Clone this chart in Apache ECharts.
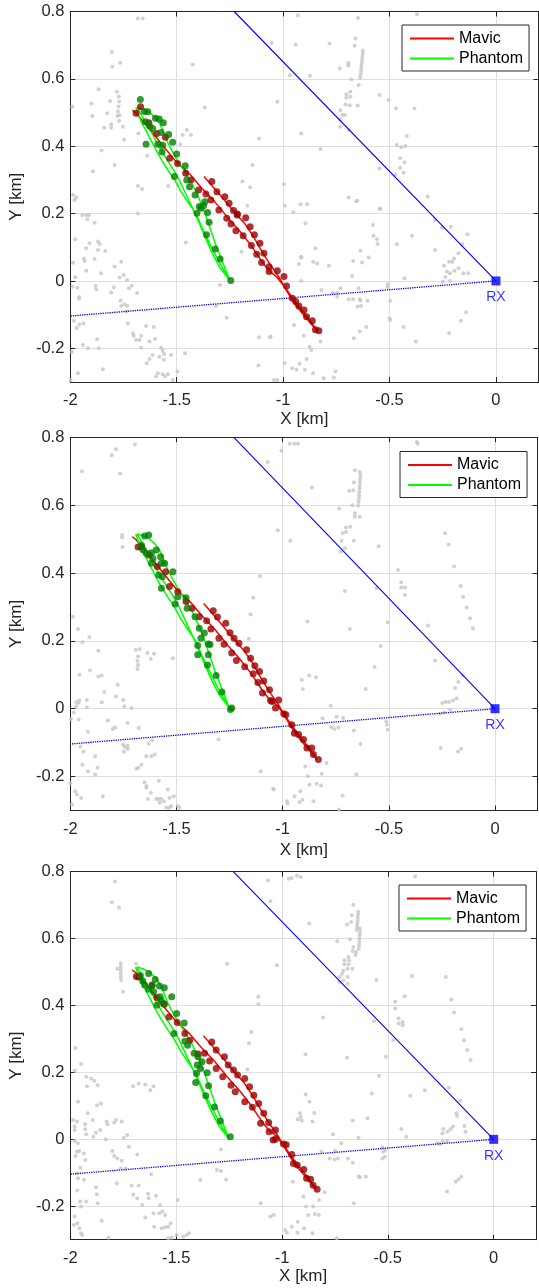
<!DOCTYPE html>
<html>
<head>
<meta charset="utf-8">
<script src="https://cdn.jsdelivr.net/npm/echarts@6/dist/echarts.min.js"></script>
<style>
html, body { margin: 0; padding: 0; background: #ffffff; }
#chart { width: 539px; height: 1288px; }
</style>
</head>
<body>
<div id="chart"></div>
<script>
// ---- Ground-truth GPS tracks (km), identical in all three panels ----
const mavicTrack = [
  [-1.372,0.310],[-1.330,0.280],[-1.280,0.243],[-1.230,0.205],[-1.180,0.170],[-1.140,0.132],
  [-1.100,0.088],[-1.060,0.048],[-1.020,0.012],[-0.980,-0.033],[-0.940,-0.073],[-0.900,-0.104],
  [-0.865,-0.130],[-0.838,-0.150],
  [-0.845,-0.145],[-0.870,-0.121],[-0.905,-0.092],[-0.945,-0.060],[-0.990,-0.020],[-1.030,0.012],
  [-1.066,0.030],[-1.100,0.058],[-1.150,0.105],[-1.200,0.145],[-1.260,0.188],[-1.320,0.234],
  [-1.380,0.274],[-1.440,0.318],[-1.500,0.352],[-1.560,0.398],[-1.610,0.438],[-1.660,0.475],
  [-1.690,0.498],[-1.708,0.507]
];
const phantomTrack = [
  [-1.692,0.515],[-1.682,0.497],[-1.667,0.473],[-1.645,0.447],[-1.622,0.419],[-1.598,0.389],
  [-1.570,0.358],[-1.540,0.328],[-1.510,0.300],[-1.480,0.265],[-1.445,0.232],[-1.410,0.200],
  [-1.375,0.150],[-1.340,0.105],[-1.300,0.055],[-1.250,0.000],
  [-1.262,0.020],[-1.290,0.065],[-1.318,0.110],[-1.345,0.160],[-1.370,0.205],[-1.395,0.245],
  [-1.425,0.285],[-1.458,0.320],[-1.490,0.350],[-1.515,0.378],[-1.540,0.408],[-1.560,0.440],
  [-1.578,0.465],[-1.600,0.485],[-1.627,0.500],[-1.657,0.510],[-1.685,0.515],
  [-1.672,0.500],[-1.655,0.480],[-1.630,0.455],[-1.605,0.425],[-1.580,0.395],[-1.548,0.362],
  [-1.515,0.330],[-1.488,0.300],[-1.460,0.262],[-1.430,0.222],[-1.400,0.180],[-1.370,0.135],
  [-1.335,0.085],[-1.298,0.040],[-1.255,0.005]
];

// ---- Receiver and field-of-view boundaries ----
const rxPos = [[0, 0]];
const fovUpper = [[0, 0], [-1.23, 0.8]];
const fovLower = [[0, 0], [-2.0, -0.104]];

// ---- Panel 1: clutter detections and target detections ----
const clutter1 = [
  [-1.683,0.779],[-1.660,0.779],[-1.805,0.680],[-1.803,0.636],[-1.766,0.648],[-1.867,0.569],[-1.900,0.527],
  [-1.897,0.490],[-1.991,0.517],[-1.813,0.534],[-1.781,0.562],[-1.772,0.548],[-1.770,0.533],[-1.773,0.518],
  [-1.776,0.503],[-1.768,0.492],[-1.779,0.490],[-1.771,0.476],[-1.827,0.498],[-1.841,0.455],[-1.808,0.465],
  [-1.808,0.455],[-1.753,0.458],[-1.747,0.420],[-1.853,0.387],[-1.894,0.326],[-1.792,0.344],[-1.680,0.438],
  [-1.639,0.372],[-1.683,0.282],[-1.663,0.273],[-1.683,0.200],[-1.425,0.643],[-1.368,0.515],[-1.453,0.448],
  [-1.472,0.433],[-1.433,0.433],[-1.483,0.406],[-1.540,0.282],[-1.493,0.285],[-1.191,0.295],[-1.155,0.278],
  [-1.144,0.344],[-1.113,0.423],[-1.168,0.223],[-1.987,0.255],[-1.980,0.240],[-1.972,0.248],
  [-1.944,0.196],[-1.925,0.196],[-1.912,0.196],[-1.920,0.183],[-1.886,0.173],[-1.987,0.054],[-1.977,0.124],
  [-1.910,0.112],[-1.925,0.097],[-1.870,0.117],[-1.862,0.110],[-1.870,0.092],[-1.836,0.089],[-1.936,0.067],
  [-1.933,0.059],[-1.886,0.065],[-1.925,0.030],[-1.855,0.023],[-1.977,0.011],[-1.990,-0.017],[-1.967,-0.020],
  [-1.959,-0.048],[-1.959,-0.053],[-1.881,-0.015],[-1.878,-0.025],[-1.792,0.043],[-1.761,0.057],[-1.769,0.010],
  [-1.749,0.018],[-1.733,0.003],[-1.725,-0.022],[-1.711,-0.014],[-1.686,-0.036],[-1.796,-0.019],[-1.808,-0.034],
  [-1.764,-0.058],[-1.761,-0.074],[-1.746,-0.069],[-1.733,-0.074],[-1.736,-0.091],[-1.983,-0.118],[-1.970,-0.140],
  [-1.958,-0.129],[-1.938,-0.126],[-1.730,-0.126],[-1.706,-0.155],[-1.702,-0.163],[-1.644,-0.134],[-1.667,-0.163],
  [-1.691,-0.175],[-1.675,-0.175],[-1.667,-0.198],[-1.628,-0.180],[-1.602,-0.172],[-1.608,-0.137],[-1.574,-0.198],
  [-1.566,-0.207],[-1.559,-0.217],[-1.582,-0.225],[-1.613,-0.220],[-1.628,-0.232],[-1.641,-0.244],[-1.527,-0.220],
  [-1.461,-0.215],[-1.561,-0.234],[-1.589,-0.274],[-1.566,-0.277],[-1.555,-0.284],[-1.542,-0.277],[-1.597,-0.284],
  [-1.519,-0.294],[-1.496,-0.269],[-1.941,-0.190],[-1.917,-0.200],[-1.867,-0.200],[-1.874,-0.173],[-1.992,-0.210],
  [-1.964,-0.274],[-1.847,-0.262],[-1.999,-0.294],[-1.296,-0.012],[-1.316,-0.074],[-1.266,-0.109],[-1.457,0.114],
  [-1.113,-0.167],[-1.062,-0.167],[-1.116,-0.251],[-1.196,0.087],
  [-0.931,0.789],[-0.648,0.781],[-0.371,0.792],[-1.055,0.707],[-0.941,0.702],[-0.782,0.705],[-0.660,0.720],
  [-0.664,0.698],[-0.625,0.684],[-0.626,0.675],[-0.628,0.666],[-0.629,0.657],[-0.630,0.648],
  [-0.632,0.639],[-0.633,0.630],[-0.634,0.621],[-0.636,0.612],[-0.638,0.603],
  [-0.693,0.647],[-0.694,0.640],[-0.734,0.631],[-0.679,0.599],[-0.645,0.582],[-0.684,0.562],[-0.703,0.554],
  [-0.703,0.544],[-0.684,0.547],[-0.707,0.524],[-0.687,0.522],[-0.650,0.521],[-0.731,0.507],[-0.723,0.493],
  [-0.710,0.493],[-0.731,0.478],[-0.731,0.458],[-0.692,0.448],[-0.547,0.552],[-0.505,0.537],[-0.469,0.512],
  [-0.383,0.512],[-1.027,0.532],[-0.968,0.611],[-0.874,0.609],[-0.915,0.438],[-0.824,0.392],[-0.466,0.404],
  [-0.445,0.397],[-0.426,0.401],[-0.419,0.430],[-0.450,0.364],[-0.430,0.352],[-0.450,0.336],[-0.434,0.321],
  [-0.473,0.315],[-0.547,0.334],[-0.996,0.287],[-0.992,0.223],[-0.918,0.228],[-0.887,0.228],[-0.692,0.248],
  [-0.656,0.237],[-0.321,0.250],[-0.952,0.204],[-0.547,0.215],
  [-0.895,0.171],[-0.848,0.097],[-0.915,0.072],[-0.915,0.069],[-0.926,0.050],[-0.859,0.057],[-0.840,0.052],
  [-0.785,0.045],[-0.915,0.000],[-0.820,-0.027],[-0.767,-0.035],[-0.746,-0.035],[-0.731,-0.022],[-0.746,-0.047],
  [-0.692,-0.054],[-0.671,-0.054],[-0.645,-0.022],[-0.640,-0.054],[-0.637,-0.058],[-0.650,-0.076],[-0.634,-0.074],
  [-0.603,-0.059],[-0.676,0.015],[-0.671,0.059],[-0.637,0.090],[-0.629,0.055],[-0.598,0.070],[-0.578,0.166],
  [-0.575,0.134],[-0.559,0.124],[-0.556,0.110],[-0.652,0.238],[-0.543,0.213],[-0.509,-0.010],[-0.509,-0.019],
  [-0.497,-0.059],[-0.500,-0.111],[-0.497,-0.116],[-0.465,0.109],[-0.430,0.008],[-0.395,0.134],[-0.434,-0.137],
  [-0.376,-0.180],[-0.286,0.181],[-0.254,0.158],[-0.212,0.161],[-0.134,0.139],[-0.158,0.110],[-0.176,0.082],
  [-0.197,0.067],[-0.205,0.057],[-0.220,0.057],[-0.286,0.092],[-0.244,0.045],[-0.231,0.028],[-0.216,0.023],
  [-0.176,0.038],[-0.153,0.023],[-0.130,0.023],[-0.250,-0.002],[-0.216,0.000],[-0.238,0.012],[-0.195,0.030],
  [-0.165,-0.118],[-0.140,-0.093],[-0.220,-0.155],[-0.949,-0.131],[-0.903,-0.163],[-0.875,-0.195],[-0.868,-0.205],
  [-0.824,-0.180],[-0.890,-0.232],[-0.993,-0.244],[-0.923,-0.246],[-0.957,-0.259],[-0.937,-0.264],[-0.898,-0.264],
  [-0.859,-0.274],[-0.809,-0.289],[-0.754,-0.269],[-0.762,-0.287],[-1.043,-0.294],[-1.027,-0.294],[-0.668,-0.170],
  [-0.640,-0.150],[-0.609,-0.137],[-1.059,-0.165]
];
const mavicHits1 = [
  [-1.691,0.498],[-1.670,0.517],[-1.631,0.470],[-1.594,0.438],[-1.553,0.427],[-1.533,0.364],[-1.496,0.349],
  [-1.458,0.320],[-1.433,0.300],[-1.397,0.270],[-1.363,0.258],[-1.340,0.240],[-1.302,0.211],[-1.265,0.186],
  [-1.335,0.295],[-1.311,0.265],[-1.274,0.250],[-1.254,0.231],[-1.233,0.209],[-1.215,0.199],[-1.176,0.188],
  [-1.245,0.169],[-1.222,0.149],[-1.188,0.134],[-1.149,0.105],[-1.124,0.079],[-1.101,0.055],[-1.066,0.028],
  [-1.216,0.196],[-1.155,0.161],[-1.135,0.137],[-1.109,0.112],[-1.090,0.082],[-1.066,0.042],
  [-1.027,0.030],[-0.996,0.013],[-0.984,-0.015],[-0.957,-0.051],[-0.941,-0.061],[-0.926,-0.074],
  [-0.902,-0.086],[-0.890,-0.106],[-0.863,-0.118],[-0.848,-0.145],[-0.832,-0.148]
];
const phantomHits1 = [
  [-1.671,0.539],[-1.652,0.503],[-1.636,0.502],[-1.600,0.483],[-1.582,0.481],[-1.563,0.470],[-1.647,0.473],
  [-1.628,0.460],[-1.613,0.453],[-1.574,0.441],[-1.538,0.435],[-1.644,0.406],[-1.589,0.406],[-1.566,0.403],
  [-1.569,0.383],[-1.519,0.412],[-1.500,0.377],[-1.511,0.310],[-1.460,0.342],[-1.453,0.300],[-1.440,0.280],
  [-1.414,0.255],[-1.386,0.216],[-1.355,0.203],[-1.368,0.235],[-1.405,0.201],[-1.394,0.221],[-1.374,0.223],
  [-1.348,0.174],[-1.360,0.137],[-1.319,0.095],[-1.296,0.065],[-1.246,0.001]
];

// ---- Panel 2 ----
const clutter2 = [
  [-1.945,0.700],[-1.805,0.747],[-1.785,0.765],[-1.696,0.779],[-1.766,0.693],[-1.756,0.512],[-1.756,0.505],
  [-1.754,0.477],[-1.070,0.727],[-1.107,0.391],[-1.139,0.327],[-1.151,0.278],[-1.159,0.206],[-1.989,0.271],
  [-1.964,0.235],[-1.943,0.196],[-1.910,0.211],[-1.868,0.171],[-1.692,0.174],[-1.673,0.176],[-1.681,0.154],
  [-1.684,0.141],[-1.681,0.129],[-1.684,0.117],[-1.637,0.164],[-1.606,0.162],[-1.621,0.147],[-1.517,0.149],
  [-1.957,0.100],[-1.907,0.113],[-1.868,0.095],[-1.852,0.098],[-1.840,0.049],[-1.777,0.071],[-1.786,0.036],
  [-1.852,0.019],[-1.922,0.026],[-1.958,0.024],[-1.972,0.019],[-1.972,0.007],[-1.961,0.017],[-1.922,0.004],
  [-1.984,-0.011],[-1.997,-0.030],[-1.961,-0.032],[-1.751,0.026],[-1.746,0.007],[-1.712,0.002],[-1.917,-0.068],
  [-1.824,-0.035],[-1.800,-0.060],[-1.790,-0.055],[-1.730,-0.042],[-1.678,-0.057],[-1.751,-0.106],[-1.743,-0.113],
  [-1.730,-0.109],[-1.730,-0.119],[-1.748,-0.127],[-1.631,-0.103],[-1.614,-0.093],[-1.642,-0.140],[-1.618,-0.140],
  [-1.603,-0.135],[-1.665,-0.165],[-1.688,-0.177],[-1.681,-0.174],[-1.953,-0.111],[-1.938,-0.126],[-1.943,-0.165],
  [-1.917,-0.184],[-1.883,-0.194],[-1.872,-0.174],[-1.883,-0.140],[-2.000,-0.219],[-1.977,-0.243],[-1.969,-0.253],
  [-1.949,-0.263],[-1.992,-0.282],[-1.847,-0.258],[-1.650,-0.217],[-1.642,-0.228],[-1.642,-0.233],[-1.621,-0.248],
  [-1.634,-0.266],[-1.595,-0.266],[-1.584,-0.266],[-1.571,-0.266],[-1.579,-0.277],[-1.559,-0.273],[-1.583,-0.212],
  [-1.541,-0.238],[-1.533,-0.263],[-1.513,-0.258],[-1.548,-0.292],[-1.533,-0.292],[-1.525,-0.287],[-1.494,-0.287],
  [-1.486,-0.292],[-1.302,-0.091],[-1.104,-0.184],[-1.045,-0.236],
  [-0.539,0.185],[-0.567,0.123],[-0.609,0.058],[-0.875,0.098],[-0.843,0.093],[-0.910,0.085],[-0.905,0.058],
  [-0.774,0.009],[-0.715,-0.027],[-0.746,-0.024],[-0.812,-0.029],[-0.772,-0.054],[-0.757,-0.060],[-0.738,-0.055],
  [-0.665,-0.064],[-0.634,-0.104],[-0.512,-0.037],[-0.509,-0.047],[-0.505,-0.062],[-0.282,0.142],[-0.188,0.061],
  [-0.151,0.098],[-0.173,0.079],[-0.181,0.031],[-0.198,0.024],[-0.216,0.020],[-0.232,0.020],[-0.248,0.017],
  [-0.212,-0.003],[-0.240,-0.011],[-0.259,-0.015],[-0.256,-0.116],[-0.174,-0.126],[-0.159,-0.118],[-0.894,-0.170],
  [-0.882,-0.199],[-0.793,-0.160],[-0.816,-0.192],[-0.653,-0.194],[-0.874,-0.224],[-0.840,-0.221],[-0.819,-0.226],
  [-0.917,-0.243],[-0.944,-0.258],[-0.921,-0.276],[-0.907,-0.268],[-0.980,-0.273],[-0.977,-0.279],[-0.855,-0.273],
  [-0.718,-0.256],[-0.735,-0.297],[-1.042,-0.238],
  [-0.967,0.781],[-0.945,0.781],[-0.928,0.781],[-1.006,0.760],[-0.368,0.786],[-0.365,0.781],[-1.023,0.526],
  [-0.964,0.495],[-0.863,0.652],[-0.660,0.703],[-0.637,0.698],[-0.634,0.689],[-0.635,0.679],[-0.636,0.669],
  [-0.637,0.659],[-0.638,0.649],[-0.639,0.639],[-0.640,0.629],[-0.641,0.619],[-0.643,0.609],[-0.645,0.598],
  [-0.664,0.667],[-0.687,0.642],[-0.668,0.644],[-0.672,0.600],
  [-0.734,0.590],[-0.660,0.576],[-0.660,0.566],[-0.637,0.566],[-0.702,0.534],[-0.681,0.536],[-0.702,0.521],
  [-0.718,0.517],[-0.723,0.495],[-0.707,0.473],[-0.726,0.463],[-0.665,0.495],[-0.548,0.479],[-0.235,0.517],
  [-0.219,0.484],[-0.193,0.419],[-0.162,0.362],[-0.150,0.330],[-0.134,0.298],[-0.118,0.267],[-0.104,0.237],
  [-0.457,0.409],[-0.442,0.373],[-0.442,0.357],[-0.424,0.357],[-0.424,0.335],[-0.707,0.347],[-0.559,0.355],
  [-0.883,0.257],[-0.684,0.235],[-0.505,0.255],[-0.315,0.245]
];
const mavicHits2 = [
  [-1.681,0.477],[-1.665,0.477],[-1.629,0.453],[-1.590,0.419],[-1.551,0.404],[-1.533,0.360],[-1.494,0.345],
  [-1.455,0.316],[-1.427,0.296],[-1.393,0.271],[-1.358,0.259],[-1.338,0.235],[-1.300,0.208],[-1.276,0.190],
  [-1.327,0.289],[-1.307,0.270],[-1.268,0.252],[-1.248,0.224],[-1.229,0.208],[-1.206,0.193],[-1.170,0.174],
  [-1.240,0.164],[-1.218,0.142],[-1.179,0.124],[-1.139,0.103],[-1.117,0.077],[-1.095,0.046],[-1.057,0.024],
  [-1.151,0.149],[-1.131,0.127],[-1.109,0.110],[-1.089,0.082],[-1.062,0.056],[-1.050,0.021],
  [-1.019,0.026],[-1.034,0.002],[-0.995,-0.015],[-0.985,-0.018],[-0.957,-0.047],[-0.945,-0.072],[-0.925,-0.076],
  [-0.902,-0.091],[-0.886,-0.116],[-0.863,-0.116],[-0.855,-0.135],[-0.832,-0.150]
];
const phantomHits2 = [
  [-1.650,0.509],[-1.631,0.512],[-1.665,0.482],[-1.657,0.468],[-1.642,0.458],[-1.618,0.460],[-1.595,0.468],
  [-1.575,0.448],[-1.611,0.443],[-1.618,0.429],[-1.571,0.429],[-1.556,0.429],[-1.584,0.394],[-1.567,0.389],
  [-1.517,0.404],[-1.571,0.355],[-1.494,0.330],[-1.506,0.309],[-1.455,0.327],[-1.450,0.296],[-1.413,0.271],
  [-1.393,0.237],[-1.369,0.223],[-1.385,0.208],[-1.350,0.191],[-1.400,0.186],[-1.400,0.159],[-1.350,0.159],
  [-1.342,0.189],[-1.354,0.129],[-1.313,0.098],[-1.286,0.049],[-1.240,0.002],[-1.246,-0.002]
];

// ---- Panel 3 ----
const clutter3 = [
  [-1.789,0.771],[-1.804,0.709],[-1.770,0.693],[-1.762,0.526],[-1.762,0.516],[-1.762,0.506],[-1.762,0.496],
  [-1.762,0.486],[-1.760,0.476],[-1.778,0.510],[-1.689,0.525],[-1.751,0.441],[-1.260,0.525],[-1.112,0.426],
  [-1.112,0.404],[-1.145,0.321],[-1.156,0.287],[-1.164,0.209],[-1.067,0.774],[-1.055,0.712],[-1.975,0.273],
  [-1.949,0.225],[-1.980,0.205],[-1.925,0.187],[-1.902,0.182],[-1.471,0.272],
  [-1.887,0.175],[-1.871,0.162],[-1.921,0.159],[-1.964,0.112],[-1.874,0.102],[-1.855,0.107],[-1.918,0.078],
  [-1.894,0.058],[-1.987,0.058],[-1.969,0.053],[-1.930,0.045],[-1.930,0.030],[-1.925,0.015],[-1.980,0.038],
  [-1.980,0.028],[-1.879,0.020],[-1.859,0.028],[-1.829,0.053],[-1.824,0.045],[-1.793,0.050],[-1.785,0.058],
  [-1.757,0.053],[-1.832,0.000],[-1.891,0.008],[-1.747,0.005],[-1.731,0.013],[-1.723,-0.022],[-1.801,-0.035],
  [-1.793,-0.050],[-1.778,-0.057],[-1.757,-0.064],[-1.762,-0.087],[-1.739,-0.087],[-1.684,-0.045],[-1.618,-0.104],
  [-1.980,-0.005],[-1.965,-0.012],[-1.957,-0.035],[-1.968,-0.037],[-1.976,-0.050],[-1.936,-0.042],[-1.929,-0.062],
  [-1.953,-0.085],[-1.967,-0.101],[-1.964,-0.116],[-1.936,-0.121],[-1.967,-0.153],[-1.879,-0.143],[-1.875,-0.164],
  [-1.781,-0.131],[-1.711,-0.138],[-1.677,-0.138],[-1.703,-0.166],[-1.684,-0.176],[-1.633,-0.163],[-1.630,-0.176],
  [-1.596,-0.169],[-1.661,-0.196],[-1.607,-0.221],[-1.580,-0.221],[-1.565,-0.216],[-1.552,-0.226],[-1.576,-0.196],
  [-1.953,-0.186],[-1.949,-0.201],[-1.925,-0.186],[-1.871,-0.191],[-1.852,-0.243],[-1.980,-0.231],[-1.967,-0.251],
  [-1.957,-0.266],[-1.949,-0.281],[-1.944,-0.286],[-1.983,-0.256],[-1.646,-0.234],[-1.604,-0.261],[-1.568,-0.266],
  [-1.552,-0.263],[-1.537,-0.261],[-1.526,-0.251],[-1.820,-0.294],[-1.537,-0.296],[-1.521,-0.294],[-1.498,-0.286],
  [-1.467,-0.291],[-1.451,-0.286],[-1.439,-0.281],[-1.493,-0.181],[-1.386,-0.121],[-1.288,-0.030],[-1.308,-0.092],
  [-1.288,-0.095],[-1.264,-0.121],[-1.101,-0.191],[-1.055,-0.231],[-1.703,0.159],[-1.677,0.167],[-1.646,0.164],
  [-1.607,0.159],[-1.622,0.147],
  [-0.542,0.190],[-0.576,0.137],[-0.596,0.063],[-0.666,0.056],[-0.638,0.005],[-0.888,0.135],[-0.870,0.112],
  [-0.847,0.079],[-0.926,0.060],[-0.912,0.067],[-0.915,0.078],[-0.907,0.056],[-0.856,0.053],[-0.759,0.015],
  [-0.720,-0.012],[-0.814,-0.037],[-0.749,-0.034],[-0.775,-0.057],[-0.752,-0.060],[-0.736,-0.057],[-0.689,-0.057],
  [-0.666,-0.070],[-0.638,-0.110],[-0.632,-0.113],[-0.604,-0.112],[-0.526,-0.024],[-0.521,-0.037],[-0.511,-0.032],
  [-0.514,-0.052],[-0.526,-0.057],[-0.436,0.031],[-0.413,0.008],[-0.394,0.130],[-0.325,0.147],[-0.212,0.154],
  [-0.158,0.115],[-0.176,0.078],[-0.173,0.070],[-0.192,0.038],[-0.204,0.030],[-0.218,0.023],[-0.238,0.031],
  [-0.242,0.018],[-0.138,0.040],[-0.133,0.023],[-0.265,-0.012],[-0.255,-0.014],[-0.240,-0.007],[-0.220,-0.005],
  [-0.153,-0.112],[-0.166,-0.119],[-0.180,-0.127],[-0.220,-0.156],[-0.949,-0.127],[-0.899,-0.171],[-0.887,-0.201],
  [-0.853,-0.201],[-0.798,-0.158],[-0.825,-0.181],[-0.661,-0.191],[-0.876,-0.226],[-0.845,-0.223],[-0.826,-0.226],
  [-0.926,-0.246],[-0.954,-0.261],[-0.985,-0.271],[-0.977,-0.279],[-0.927,-0.279],[-0.896,-0.266],[-0.856,-0.281],
  [-0.741,-0.296],[-1.039,-0.226],
  [-0.969,0.779],[-0.954,0.781],[-0.930,0.789],[-0.912,0.784],[-0.371,0.786],[-0.871,0.645],[-1.024,0.520],
  [-0.663,0.701],[-0.640,0.680],[-0.641,0.671],[-0.642,0.662],[-0.643,0.653],[-0.644,0.644],[-0.645,0.635],
  [-0.646,0.626],[-0.631,0.630],[-0.632,0.620],[-0.633,0.610],[-0.634,0.600],[-0.635,0.590],[-0.636,0.580],
  [-0.637,0.570],[-0.650,0.560],[-0.652,0.551],[-0.670,0.670],
  [-0.673,0.650],[-0.693,0.642],[-0.739,0.592],[-0.679,0.598],[-0.663,0.575],[-0.666,0.563],[-0.686,0.545],
  [-0.705,0.535],[-0.682,0.535],[-0.705,0.523],[-0.685,0.523],[-0.667,0.510],[-0.690,0.510],[-0.710,0.505],
  [-0.716,0.495],[-0.728,0.485],[-0.728,0.470],[-0.710,0.475],[-0.690,0.485],[-0.690,0.465],[-0.554,0.476],
  [-0.386,0.488],[-0.226,0.485],[-0.200,0.418],[-0.187,0.379],[-0.153,0.329],[-0.140,0.296],[-0.125,0.267],
  [-0.109,0.237],[-0.421,0.428],[-0.465,0.411],[-0.465,0.391],[-0.449,0.361],[-0.449,0.346],[-0.430,0.351],
  [-0.430,0.341],[-0.474,0.296],[-0.565,0.353],[-0.806,0.364],[-0.889,0.254],[-0.693,0.244],[-0.509,0.247]
];
const mavicHits3 = [
  [-1.688,0.487],[-1.677,0.485],[-1.614,0.461],[-1.591,0.424],[-1.556,0.404],[-1.534,0.366],[-1.495,0.349],
  [-1.459,0.316],[-1.436,0.296],[-1.397,0.255],[-1.366,0.257],[-1.342,0.234],[-1.311,0.212],[-1.280,0.187],
  [-1.332,0.291],[-1.311,0.267],[-1.272,0.247],[-1.254,0.222],[-1.229,0.207],[-1.210,0.192],[-1.176,0.182],
  [-1.241,0.162],[-1.221,0.142],[-1.176,0.112],[-1.140,0.096],[-1.101,0.048],[-1.061,0.023],
  [-1.153,0.157],[-1.133,0.132],[-1.110,0.107],[-1.086,0.078],[-1.063,0.050],[-1.042,-0.002],
  [-1.031,0.028],[-1.031,0.000],[-0.993,-0.014],[-0.980,-0.016],[-0.954,-0.045],[-0.946,-0.072],[-0.928,-0.077],
  [-0.897,-0.090],[-0.884,-0.116],[-0.865,-0.119],[-0.853,-0.137],[-0.834,-0.149]
];
const phantomHits3 = [
  [-1.669,0.490],[-1.658,0.473],[-1.630,0.496],[-1.649,0.461],[-1.599,0.478],[-1.579,0.458],[-1.556,0.453],
  [-1.614,0.458],[-1.630,0.449],[-1.607,0.441],[-1.521,0.426],[-1.576,0.426],[-1.571,0.416],[-1.591,0.401],
  [-1.560,0.406],[-1.498,0.376],[-1.462,0.348],[-1.510,0.316],[-1.459,0.293],[-1.446,0.281],[-1.415,0.257],
  [-1.397,0.247],[-1.378,0.232],[-1.400,0.222],[-1.386,0.212],[-1.353,0.199],[-1.404,0.197],[-1.408,0.170],
  [-1.347,0.160],[-1.360,0.130],[-1.319,0.097],[-1.291,0.055],[-1.244,0.008]
];

const legendNames = ['Mavic', 'Phantom'];
const xName = 'X [km]';
const yName = 'Y [km]';

// ---- Layout and styling ----
const FONT = '"Liberation Sans", Arial, Helvetica, sans-serif';
const INK = '#262626';
const panels = [
  { grid: { left: 69, top: 11.5, width: 469.5, height: 370.5 }, legend: { left: 402, top: 25 },
    xGap: 29, yGap: 43, clutter: clutter1, mavicHits: mavicHits1, phantomHits: phantomHits1 },
  { grid: { left: 65, top: 437.3, width: 472.5, height: 373.2 }, legend: { left: 400, top: 451.5 },
    xGap: 31, yGap: 40, clutter: clutter2, mavicHits: mavicHits2, phantomHits: phantomHits2 },
  { grid: { left: 64, top: 871.7, width: 472, height: 368 }, legend: { left: 399, top: 885 },
    xGap: 28, yGap: 41, clutter: clutter3, mavicHits: mavicHits3, phantomHits: phantomHits3 }
];

const grids = [], xAxes = [], yAxes = [], legends = [], series = [];

panels.forEach((p, i) => {
  grids.push(Object.assign({ containLabel: false }, p.grid));
  const tick = { show: true, inside: true, length: 5, lineStyle: { color: INK, width: 1 } };
  const line = { show: true, onZero: false, lineStyle: { color: INK, width: 1 } };
  // bottom X axis
  xAxes.push({
    type: 'value', gridIndex: i, position: 'bottom', min: -2, max: 0.2, interval: 0.5,
    axisLine: line, axisTick: tick,
    axisLabel: { color: INK, fontSize: 16.5, fontFamily: FONT, margin: 10, showMaxLabel: false },
    splitLine: { show: true, lineStyle: { color: '#dfdfdf', width: 1 } },
    name: xName, nameLocation: 'middle', nameGap: p.xGap,
    nameTextStyle: { color: INK, fontSize: 17, fontFamily: FONT }
  });
  // top frame
  xAxes.push({
    type: 'value', gridIndex: i, position: 'top', min: -2, max: 0.2, interval: 0.5,
    axisLine: line, axisTick: tick, axisLabel: { show: false }, splitLine: { show: false }
  });
  // left Y axis
  yAxes.push({
    type: 'value', gridIndex: i, position: 'left', min: -0.3, max: 0.8,
    axisLine: line, axisTick: tick,
    axisLabel: { color: INK, fontSize: 16.5, fontFamily: FONT, margin: 6, showMinLabel: false },
    splitLine: { show: true, lineStyle: { color: '#dfdfdf', width: 1 } },
    name: yName, nameLocation: 'middle', nameGap: p.yGap,
    nameTextStyle: { color: INK, fontSize: 17, fontFamily: FONT }
  });
  // right frame
  yAxes.push({
    type: 'value', gridIndex: i, position: 'right', min: -0.3, max: 0.8,
    axisLine: line, axisTick: tick, axisLabel: { show: false }, splitLine: { show: false }
  });

  const xi = 2 * i, yi = 2 * i;

  legends.push({
    data: legendNames, orient: 'vertical', left: p.legend.left, top: p.legend.top,
    icon: 'rect', itemWidth: 44, itemHeight: 2, itemGap: 3,
    padding: [5, 6, 4, 8], borderColor: INK, borderWidth: 1, backgroundColor: '#ffffff',
    textStyle: { color: '#000000', fontSize: 16, fontFamily: FONT, lineHeight: 17 },
    selectedMode: false
  });

  series.push({
    type: 'scatter', name: 'clutter', xAxisIndex: xi, yAxisIndex: yi, data: p.clutter,
    symbolSize: 4, itemStyle: { color: '#c6c6c6' }, silent: true, z: 1
  });
  series.push({
    type: 'line', name: 'fov-upper', xAxisIndex: xi, yAxisIndex: yi, data: fovUpper,
    showSymbol: false, symbol: 'none', lineStyle: { color: '#0000ff', width: 1.1 }, silent: true, z: 2
  });
  series.push({
    type: 'line', name: 'fov-lower', xAxisIndex: xi, yAxisIndex: yi, data: fovLower,
    showSymbol: false, symbol: 'none', lineStyle: { color: '#0000ff', width: 1.3, type: [1.3, 1] }, silent: true, z: 2
  });
  series.push({
    type: 'line', name: 'Mavic', xAxisIndex: xi, yAxisIndex: yi, data: mavicTrack,
    showSymbol: false, symbol: 'none', color: '#ff0000',
    itemStyle: { color: '#ff0000' }, lineStyle: { color: '#ff0000', width: 1.5 }, silent: true, z: 3
  });
  series.push({
    type: 'line', name: 'Phantom', xAxisIndex: xi, yAxisIndex: yi, data: phantomTrack,
    showSymbol: false, symbol: 'none', color: '#00ff00',
    itemStyle: { color: '#00ff00' }, lineStyle: { color: '#00ff00', width: 1.5 }, silent: true, z: 3
  });
  series.push({
    type: 'scatter', name: 'Mavic hits', xAxisIndex: xi, yAxisIndex: yi, data: p.mavicHits,
    symbolSize: 7, itemStyle: { color: '#990000' }, silent: true, z: 4
  });
  series.push({
    type: 'scatter', name: 'Phantom hits', xAxisIndex: xi, yAxisIndex: yi, data: p.phantomHits,
    symbolSize: 7, itemStyle: { color: '#007f00' }, silent: true, z: 4
  });
  series.push({
    type: 'scatter', name: 'RX', xAxisIndex: xi, yAxisIndex: yi, data: rxPos,
    symbol: 'rect', symbolSize: 9, itemStyle: { color: '#0000ff' }, silent: true, z: 5,
    label: { show: true, formatter: 'RX', position: 'bottom', distance: 5,
             color: '#0000ff', fontSize: 14, fontFamily: FONT }
  });
});

const chart = echarts.init(document.getElementById('chart'), null, { renderer: 'canvas' });
chart.setOption({
  animation: false,
  backgroundColor: '#ffffff',
  grid: grids,
  xAxis: xAxes,
  yAxis: yAxes,
  legend: legends,
  series: series
});
</script>
</body>
</html>
